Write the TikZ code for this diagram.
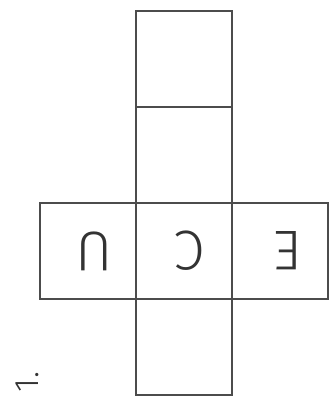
\documentclass[tikz,border=0pt]{standalone}
\usepackage{graphicx}
\usepackage{fontspec}
\setsansfont{Fira Sans}[UprightFont=* Light]
\usetikzlibrary{positioning}

\tikzset{
  face/.style={draw=black!70, line width=1.6pt, minimum size=96pt, inner sep=0pt, outer sep=0pt},
  letter/.style={text=black!80, inner sep=0pt, font=\sffamily\fontsize{56}{56}\selectfont},
}

\begin{document}
\begin{tikzpicture}[x=1pt, y=-1pt, node distance=0pt]

%% Fake frame to keep the margins
\useasboundingbox (0,0) rectangle (336,412);

%% The net of the cube
\node[face] (top) at (184,59) {};
\node[face, below=of top] (upper) {};
\node[face, below=of upper] (mid) {};
\node[face, left=of mid] (west) {};
\node[face, right=of mid] (east) {};
\node[face, below=of mid] (bottom) {};

%% Letters, upside down
\node[letter] (lu) at ([xshift=6pt]west) {\rotatebox{180}{U}};
\node[letter] (lc) at ([xshift=6pt]mid) {\rotatebox{180}{C}};
\node[letter] (le) at ([xshift=8pt]east) {\rotatebox{180}{E}};

%% Number of the exercise
\node[rotate=90, text=black!80, font=\sffamily\fontsize{34}{34}\selectfont] (num) at (27,382) {1.};

\end{tikzpicture}
\end{document}
